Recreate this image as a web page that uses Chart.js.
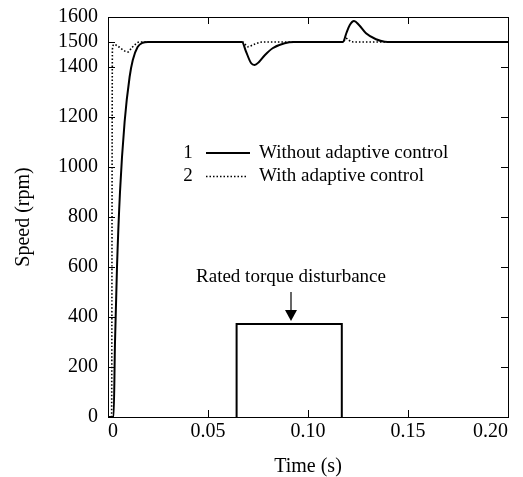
<!DOCTYPE html>
<html>
<head>
<meta charset="utf-8">
<script src="https://cdn.jsdelivr.net/npm/chart.js@4.4.1/dist/chart.umd.min.js"></script>
<style>
  html, body { margin: 0; padding: 0; background: #fff; }
  #wrap { width: 523px; height: 477px; position: relative; }
</style>
</head>
<body>
<div id="wrap"><canvas id="chart"></canvas></div>
<script>
// Speed response, curve 1 (without adaptive control)
const tSolid = [0, 0.0028, 0.0035, 0.0045, 0.006, 0.0083, 0.0108, 0.0124, 0.0148, 0.0173, 0.02,
  0.067, 0.069, 0.0715, 0.0733, 0.0755, 0.0785, 0.0823, 0.0883, 0.093,
  0.1175, 0.1192, 0.1209, 0.123, 0.1255, 0.129, 0.134, 0.1384, 0.142, 0.2];
const speedSolid = [0, 0, 300, 600, 900, 1180, 1360, 1428, 1480, 1497, 1500,
  1500, 1462, 1416, 1408, 1420, 1448, 1475, 1495, 1500,
  1500, 1536, 1568, 1584, 1568, 1535, 1511, 1501, 1500, 1500];

// Speed response, curve 2 (with adaptive control)
const tDotted = [0, 0.0018, 0.0022, 0.003, 0.005, 0.0075, 0.0099, 0.012, 0.0158,
  0.0675, 0.0698, 0.0735, 0.0773, 0.1175, 0.119, 0.1217, 0.124, 0.2];
const speedDotted = [0, 0, 1470, 1490, 1483, 1468, 1460, 1478, 1500,
  1500, 1481, 1492, 1500, 1500, 1515, 1501, 1500, 1500];

// Rated torque disturbance (step on, step off)
const tTorque = [0.0643, 0.0643, 0.1169, 0.1169];
const torqueLevel = [0, 372, 372, 0];

const yTickValues = [0, 200, 400, 600, 800, 1000, 1200, 1400, 1500, 1600];
const xTickLabels = ['0', '0.05', '0.10', '0.15', '0.20'];
const seriesNames = ['Without adaptive control', 'With adaptive control'];
const annotText = 'Rated torque disturbance';
const annotT = 0.0915;

const pts = (xs, ys) => xs.map((x, i) => ({ x: x, y: ys[i] }));
const SERIF = '"Liberation Serif", "Times New Roman", serif';

// frame + inward ticks, legend, torque annotation
const decor = {
  id: 'decor',
  afterDatasetsDraw(chart) {
    const ctx = chart.ctx, a = chart.chartArea;
    const xs = chart.scales.x, ys = chart.scales.y;
    ctx.save();
    ctx.strokeStyle = '#000';
    ctx.lineWidth = 1;
    ctx.strokeRect(Math.round(a.left) + 0.5, Math.round(a.top) + 0.5,
      Math.round(a.right - a.left), Math.round(a.bottom - a.top));
    const tl = 7;
    ctx.beginPath();
    yTickValues.forEach(v => {
      if (v === 0 || v === 1600) return;
      const y = Math.round(ys.getPixelForValue(v)) + 0.5;
      ctx.moveTo(a.left, y); ctx.lineTo(a.left + tl, y);
      ctx.moveTo(a.right, y); ctx.lineTo(a.right - tl, y);
    });
    xs.ticks.forEach(t => {
      if (t.value <= 0 || t.value >= 0.2) return;
      const x = Math.round(xs.getPixelForValue(t.value)) + 0.5;
      ctx.moveTo(x, a.bottom); ctx.lineTo(x, a.bottom - tl);
      ctx.moveTo(x, a.top); ctx.lineTo(x, a.top + tl);
    });
    ctx.stroke();

    // legend
    ctx.font = '19px ' + SERIF;
    ctx.fillStyle = '#000';
    ctx.textBaseline = 'middle';
    const lx = a.left + 80, ly = a.top + 136;
    [0, 1].forEach(i => {
      const y = ly + i * 23.5;
      ctx.textAlign = 'center';
      ctx.fillText(String(i + 1), lx, y);
      ctx.beginPath();
      ctx.lineWidth = i === 0 ? 2 : 1.5;
      ctx.setLineDash(i === 0 ? [] : [1.5, 2]);
      ctx.moveTo(lx + 18, y); ctx.lineTo(lx + (i === 0 ? 62 : 58), y);
      ctx.stroke();
      ctx.setLineDash([]);
      ctx.textAlign = 'left';
      ctx.fillText(seriesNames[i], lx + 71, y);
    });

    // annotation with arrow
    const ax = xs.getPixelForValue(annotT);
    const top = ys.getPixelForValue(torqueLevel[1]);
    ctx.textAlign = 'center';
    ctx.fillText(annotText, ax, top - 47);
    ctx.lineWidth = 1.2;
    ctx.beginPath();
    ctx.moveTo(ax, top - 32); ctx.lineTo(ax, top - 12);
    ctx.stroke();
    ctx.beginPath();
    ctx.moveTo(ax - 6, top - 14); ctx.lineTo(ax + 6, top - 14); ctx.lineTo(ax, top - 3);
    ctx.closePath();
    ctx.fill();
    ctx.restore();
  }
};

new Chart(document.getElementById('chart'), {
  type: 'line',
  data: {
    datasets: [
      { data: pts(tSolid, speedSolid), borderColor: '#000', borderWidth: 2, pointRadius: 0,
        cubicInterpolationMode: 'monotone', fill: false },
      { data: pts(tDotted, speedDotted), borderColor: '#000', borderWidth: 1.6, borderDash: [1.5, 2],
        pointRadius: 0, cubicInterpolationMode: 'monotone', fill: false },
      { data: pts(tTorque, torqueLevel), borderColor: '#000', borderWidth: 2, pointRadius: 0,
        tension: 0, fill: false }
    ]
  },
  options: {
    responsive: true,
    maintainAspectRatio: false,
    animation: false,
    layout: { padding: { top: 17, right: 15, left: 0, bottom: 0 } },
    plugins: { legend: { display: false }, tooltip: { enabled: false } },
    scales: {
      x: {
        type: 'linear', min: 0, max: 0.2,
        grid: { display: false, drawTicks: false },
        border: { display: false },
        ticks: { stepSize: 0.05, padding: 3, color: '#000', maxRotation: 0, align: 'inner',
          font: { family: SERIF, size: 20 },
          callback: (v, i) => xTickLabels[i] },
        title: { display: true, text: 'Time (s)', color: '#000', padding: { top: 11, bottom: -2 },
          font: { family: SERIF, size: 20 } },
        afterFit: s => { s.height = 60; s.paddingLeft = 0; s.paddingRight = 0; }
      },
      y: {
        min: 0, max: 1600,
        grid: { display: false, drawTicks: false },
        border: { display: false },
        afterBuildTicks: s => { s.ticks = yTickValues.map(v => ({ value: v })); },
        ticks: { padding: 10, color: '#000', font: { family: SERIF, size: 20 },
          callback: v => String(v) },
        title: { display: true, text: 'Speed (rpm)', color: '#000', padding: { top: 12 },
          font: { family: SERIF, size: 20 } },
        afterFit: s => { s.width = 108; s.paddingTop = 0; s.paddingBottom = 0; }
      }
    }
  },
  plugins: [decor]
});
</script>
</body>
</html>
